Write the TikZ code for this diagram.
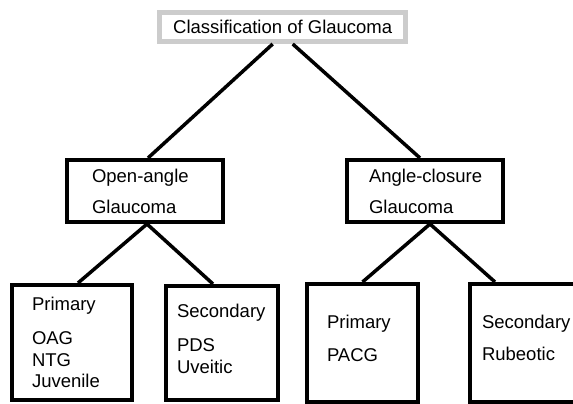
\documentclass[tikz,border=0pt]{standalone}
\usepackage{fontspec}
\setmainfont{Liberation Sans}
\usepackage{xcolor}
\tikzset{
    % boxes and connectors
    mybox/.style={draw, line width=4pt, align=left, inner ysep=2pt},
    mytitle/.style={draw=black!20, line width=5pt, align=center, inner sep=2pt},
    myline/.style={line width=3.5pt},
}
\begin{document}
\begin{tikzpicture}[x=1pt, y=-1pt, font=\fontsize{18.5}{21.5}\selectfont]
    \clip (0,0) rectangle (573,404);
    \fill[white] (0,0) rectangle (573,404);

    \node (title) at (282.7,27) [mytitle, minimum width=246.5pt, minimum height=29pt] {Classification of Glaucoma};

    \node (oag) at (145,191) [mybox, inner xsep=25pt, text width=106pt, minimum height=62pt] {Open-angle\\[9.5pt]Glaucoma};
    \node (acg) at (425,191) [mybox, inner xsep=22pt, text width=112pt, minimum height=62pt] {\mbox{Angle-closure}\\[9.5pt]Glaucoma};

    \node (opri) at (72,342.5) [mybox, inner xsep=20pt, text width=80pt, minimum height=115pt] {Primary\\[12.5pt]OAG\\NTG\\Juvenile};
    \node (osec) at (222,343) [mybox, inner xsep=11pt, text width=90pt, minimum height=114pt, text depth=63.5pt] {Secondary\\[12.5pt]PDS\\Uveitic};
    \node (cpri) at (362.5,343) [mybox, inner xsep=20pt, text width=71pt, minimum height=118pt, text depth=43pt] {Primary\\[11.5pt]PACG};
    \node (csec) at (532,343) [mybox, inner xsep=12pt, text width=100pt, minimum height=118pt, text depth=43pt] {Secondary\\[10.5pt]Rubeotic};

    % LINES
    \draw[myline] ([xshift=-10pt]title.south) -- ([xshift=3pt]oag.north);
    \draw[myline] ([xshift=10pt]title.south) -- ([xshift=-5pt]acg.north);
    \draw[myline] ([xshift=2pt]oag.south) -- ([xshift=6pt]opri.north);
    \draw[myline] ([xshift=2pt]oag.south) -- ([xshift=-9pt]osec.north);
    \draw[myline] ([xshift=5pt]acg.south) -- (cpri.north);
    \draw[myline] ([xshift=5pt]acg.south) -- ([xshift=27pt]csec.north west);
\end{tikzpicture}
\end{document}
